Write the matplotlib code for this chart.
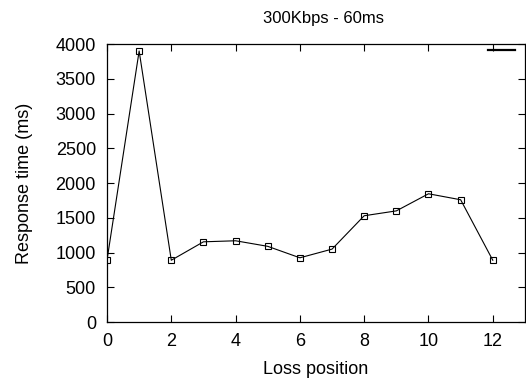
import matplotlib
matplotlib.use("Agg")
import matplotlib.pyplot as plt
from matplotlib.lines import Line2D

# data
loss_position = [0, 1, 2, 3, 4, 5, 6, 7, 8, 9, 10, 11, 12]
response_ms = [890, 3900, 890, 1155, 1170, 1090, 925, 1050, 1530, 1600, 1846, 1760, 890]
x_ticks = [0, 2, 4, 6, 8, 10, 12]
y_ticks = [0, 500, 1000, 1500, 2000, 2500, 3000, 3500, 4000]

plt.rcParams['font.family'] = ['Liberation Sans', 'DejaVu Sans']

fig = plt.figure(figsize=(5.26, 3.83), dpi=100)
ax = fig.add_axes([0.2034, 0.159, 0.7946, 0.726])

ax.plot(loss_position, response_ms, color='black', linewidth=0.8,
        marker='s', markersize=4, markerfacecolor='none',
        markeredgecolor='black', markeredgewidth=0.8)

ax.set_xlim(0, 13)
ax.set_ylim(0, 4000)
ax.set_xticks(x_ticks)
ax.set_yticks(y_ticks)
ax.tick_params(direction='in', top=True, right=True, labelsize=13, length=5, width=0.8, pad=8)
for s in ax.spines.values():
    s.set_linewidth(0.9)

ax.set_title('300Kbps - 60ms', fontsize=12, pad=15.5, x=0.519)
ax.set_xlabel('Loss position', fontsize=13, labelpad=8)
ax.set_ylabel('Response time (ms)', fontsize=13, labelpad=16)

# empty key entry like the original
key = Line2D([], [], color='black', linewidth=1.6)
ax.legend([key], [''], loc='center right', bbox_to_anchor=(0.976, 0.972),
          frameon=False, fontsize=13, handlelength=1.5,
          borderaxespad=0.0, handletextpad=0.0, borderpad=0.0)

fig.savefig('out.png', dpi=100)
